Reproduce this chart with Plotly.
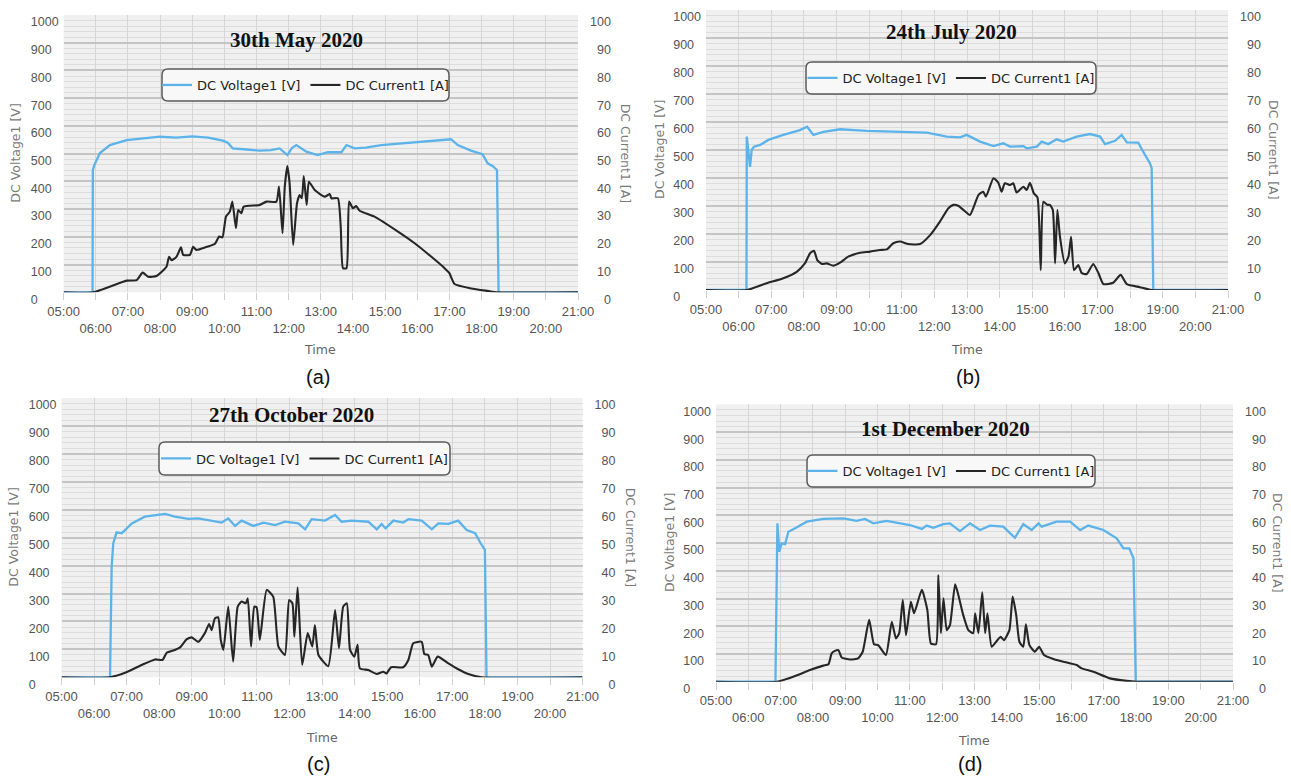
import plotly.graph_objects as go

W, H = 1291, 780

# ---------------- data ----------------
hour_ticks = list(range(5, 22))
hour_labels = ["05:00", "06:00", "07:00", "08:00", "09:00", "10:00", "11:00", "12:00", "13:00",
               "14:00", "15:00", "16:00", "17:00", "18:00", "19:00", "20:00", "21:00"]
volt_ticks = [0, 100, 200, 300, 400, 500, 600, 700, 800, 900, 1000]
amp_ticks = [0, 10, 20, 30, 40, 50, 60, 70, 80, 90, 100]
series_names = ["DC Voltage1 [V]", "DC Current1 [A]"]
panel_titles = ["30th May 2020", "24th July 2020", "27th October 2020", "1st December 2020"]
panel_tags = ["(a)", "(b)", "(c)", "(d)"]
left_axis_title = "DC Voltage1 [V]"
right_axis_title = "DC Current1 [A]"
x_axis_title = "Time"

# (a) 30th May 2020
may_v_t = [5.0, 5.9, 5.91, 5.96, 6.13, 6.44, 6.96, 7.5, 8.0, 8.5, 9.0, 9.5, 9.95, 10.1, 10.26, 10.7,
           11.1, 11.45, 11.72, 11.96, 12.1, 12.24, 12.4, 12.55, 12.9, 13.22, 13.64, 13.8, 14.05, 14.4,
           14.88, 15.4, 15.91, 16.5, 17.05, 17.26, 17.5, 17.67, 18.03, 18.19, 18.35, 18.48, 18.53, 21.0]
may_v = [0, 0, 441, 460, 502, 531, 549, 556, 561, 558, 562, 558, 547, 540, 519, 515,
         511, 513, 519, 495, 520, 531, 520, 507, 495, 505, 505, 531, 519, 522,
         531, 536, 543, 547, 552, 531, 520, 511, 498, 465, 455, 441, 0, 0]
may_i_t = [5.0, 5.92, 6.96, 7.27, 7.46, 7.63, 7.89, 8.2, 8.28, 8.36, 8.51, 8.65, 8.72, 8.93, 9.03,
           9.13, 9.45, 9.7, 9.84, 9.94, 10.05, 10.17, 10.25, 10.36, 10.43, 10.53, 10.6, 11.1, 11.31,
           11.62, 11.7, 11.81, 11.88, 11.96, 12.03, 12.14, 12.26, 12.34, 12.41, 12.47, 12.56, 12.63,
           12.81, 13.12, 13.28, 13.33, 13.53, 13.62, 13.69, 13.8, 13.88, 14.0, 14.1, 14.21, 14.67,
           15.4, 15.92, 16.44, 16.85, 17.0, 17.16, 17.68, 18.19, 18.5, 21.0]
may_i = [0, 0, 4.2, 4.4, 7.1, 5.6, 5.9, 9.2, 12.8, 11.6, 12.8, 16.2, 13.5, 13.5, 16.4,
         15.3, 16.4, 17.4, 20.1, 19.8, 27.3, 29.1, 32.7, 23.1, 29.7, 28.5, 30.9, 31.5, 32.7,
         32.7, 38.1, 21.3, 38.1, 45.5, 39.3, 17.1, 32.1, 35.1, 33.9, 41.9, 31.5, 39.9,
         36.9, 34.5, 35.4, 33.9, 33.9, 23.7, 8.7, 8.7, 32.7, 30.3, 31.1, 29.4, 27.3,
         21.9, 17.7, 12.8, 8.7, 6.9, 3.0, 1.4, 0.5, 0, 0]

# (b) 24th July 2020
jul_v_t = [5.0, 6.24, 6.25, 6.35, 6.4, 6.47, 6.66, 6.91, 7.37, 7.88, 8.1, 8.29, 8.6, 9.11, 9.93,
           10.95, 11.77, 12.38, 12.79, 12.99, 13.4, 13.81, 14.11, 14.32, 14.73, 14.83, 15.14, 15.29,
           15.49, 15.75, 15.95, 16.36, 16.77, 17.08, 17.23, 17.54, 17.74, 17.9, 18.25, 18.4, 18.61,
           18.66, 18.71, 21.0]
jul_v = [0, 0, 548, 440, 500, 512, 518, 536, 554, 571, 583, 554, 565, 574, 568,
         565, 562, 548, 545, 554, 530, 514, 524, 512, 514, 506, 512, 530,
         521, 538, 530, 548, 557, 548, 521, 533, 554, 527, 526, 494, 452,
         435, 0, 0]
jul_i_t = [5.0, 6.25, 6.86, 7.37, 7.78, 8.03, 8.19, 8.31, 8.41, 8.55, 8.7, 8.9, 9.11, 9.36, 9.72,
           10.03, 10.33, 10.54, 10.74, 10.95, 11.2, 11.56, 11.87, 12.17, 12.43, 12.58, 12.73, 12.89,
           13.09, 13.35, 13.5, 13.58, 13.81, 13.96, 14.06, 14.16, 14.32, 14.42, 14.52, 14.73, 14.83,
           14.93, 15.05, 15.16, 15.26, 15.34, 15.46, 15.54, 15.63, 15.7, 15.77, 15.85, 16.0, 16.11,
           16.19, 16.28, 16.41, 16.52, 16.67, 16.87, 17.03, 17.18, 17.48, 17.71, 17.9, 18.3, 18.66,
           21.0]
jul_i = [0, 0, 2.4, 4.2, 6.5, 9.5, 13.1, 14.0, 10.7, 9.3, 9.5, 8.7, 9.8, 11.9, 13.3,
         13.7, 14.3, 14.5, 16.7, 17.3, 16.4, 16.4, 19.6, 24.4, 29.2, 30.4, 30.1, 28.6,
         26.8, 33.9, 35.1, 33.3, 39.9, 38.3, 35.1, 38.1, 37.5, 38.1, 34.8, 36.9, 35.7,
         38.3, 34.5, 33.1, 7.1, 31.5, 30.4, 30.4, 28.6, 9.5, 28.6, 19.0, 9.5, 11.9,
         19.0, 7.1, 8.9, 6.0, 5.7, 9.3, 6.0, 2.1, 2.6, 5.4, 2.1, 1.0, 0,
         0]

# (c) 27th October 2020
oct_v_t = [5.0, 6.49, 6.54, 6.59, 6.69, 6.85, 6.95, 7.16, 7.56, 7.87, 8.18, 8.48, 8.89, 9.2, 9.61,
           9.92, 10.12, 10.33, 10.53, 10.89, 11.2, 11.56, 11.86, 12.27, 12.48, 12.68, 13.09, 13.4,
           13.6, 13.91, 14.42, 14.68, 14.83, 14.95, 15.19, 15.49, 15.65, 16.06, 16.37, 16.57, 16.88,
           17.18, 17.44, 17.7, 17.87, 18.0, 18.05, 21.0]
oct_v = [0, 0, 396, 480, 519, 516, 527, 551, 575, 579, 585, 575, 567, 569, 561,
         554, 569, 542, 561, 542, 554, 545, 557, 551, 530, 566, 561, 581,
         557, 561, 557, 530, 549, 533, 561, 554, 566, 561, 530, 551, 549,
         561, 527, 516, 480, 456, 0, 0]
oct_i_t = [5.0, 6.49, 6.95, 7.46, 7.87, 8.1, 8.23, 8.48, 8.64, 8.84, 9.0, 9.2, 9.41, 9.53, 9.61,
           9.71, 9.81, 9.89, 9.97, 10.12, 10.27, 10.41, 10.53, 10.66, 10.72, 10.82, 10.92, 10.99,
           11.09, 11.3, 11.5, 11.66, 11.86, 11.99, 12.09, 12.15, 12.25, 12.39, 12.56, 12.7, 12.78,
           12.89, 13.19, 13.4, 13.52, 13.65, 13.76, 13.86, 13.99, 14.09, 14.16, 14.42, 14.68, 14.88,
           14.98, 15.12, 15.49, 15.65, 15.8, 16.06, 16.14, 16.26, 16.37, 16.55, 16.88, 17.18, 17.49,
           17.9, 21.0]
oct_i = [0, 0, 1.6, 4.4, 6.4, 6.2, 8.8, 9.8, 10.7, 13.6, 14.3, 12.7, 16.0, 19.1, 16.9,
         21.1, 21.5, 13.4, 9.8, 25.3, 5.6, 25.3, 27.1, 26.5, 28.3, 11.0, 25.3, 25.1,
         13.4, 31.3, 28.9, 11.0, 8.0, 27.7, 26.5, 14.5, 32.2, 4.4, 15.8, 11.0, 18.7,
         8.0, 4.0, 24.1, 10.4, 25.3, 26.5, 9.8, 7.4, 11.6, 3.2, 2.6, 1.2, 2.0,
         1.4, 3.6, 3.6, 6.2, 12.2, 12.7, 8.3, 8.0, 3.8, 7.4, 5.0, 2.9, 1.2,
         0, 0]

# (d) 1st December 2020
dec_v_t = [5.0, 6.84, 6.9, 6.96, 7.03, 7.14, 7.24, 7.45, 7.81, 8.32, 8.94, 9.35, 9.61, 9.87, 10.28,
           10.7, 11.0, 11.37, 11.52, 11.73, 12.03, 12.24, 12.55, 12.86, 13.17, 13.48, 13.89, 14.05,
           14.25, 14.51, 14.77, 14.98, 15.08, 15.54, 15.96, 16.27, 16.52, 16.99, 17.4, 17.61, 17.79,
           17.92, 17.99, 21.0]
dec_v = [0, 0, 571, 469, 499, 496, 541, 553, 577, 587, 589, 580, 587, 571, 580,
         571, 565, 551, 563, 555, 568, 571, 543, 571, 547, 563, 559, 541,
         519, 568, 547, 571, 559, 577, 577, 547, 563, 547, 517, 481, 481,
         445, 0, 0]
dec_i_t = [5.0, 6.88, 7.39, 7.91, 8.32, 8.48, 8.58, 8.68, 8.79, 8.89, 9.15, 9.4, 9.54, 9.74, 9.89,
           10.02, 10.26, 10.44, 10.57, 10.67, 10.78, 10.88, 11.03, 11.13, 11.37, 11.54, 11.65, 11.81,
           11.88, 11.96, 12.04, 12.14, 12.24, 12.4, 12.5, 12.65, 12.81, 12.96, 13.02, 13.12, 13.24,
           13.33, 13.4, 13.53, 13.69, 13.81, 13.91, 14.08, 14.18, 14.29, 14.39, 14.51, 14.59, 14.7,
           14.87, 15.0, 15.15, 15.44, 15.75, 16.16, 16.32, 16.68, 17.19, 17.71, 18.02, 21.0]
dec_i = [0, 0, 1.8, 4.2, 5.8, 6.3, 10.2, 11.1, 11.4, 8.7, 8.0, 8.4, 10.8, 22.3, 13.5,
         13.2, 9.6, 21.6, 15.6, 17.5, 29.5, 16.8, 28.8, 24.7, 33.1, 25.9, 13.8, 13.5,
         38.5, 17.5, 30.1, 18.6, 20.4, 35.1, 31.3, 24.1, 18.6, 17.5, 24.7, 17.5, 32.2,
         17.5, 24.7, 12.6, 14.7, 16.2, 15.0, 18.6, 30.7, 24.1, 14.4, 12.6, 20.7, 13.2,
         10.8, 12.6, 9.6, 8.2, 7.2, 6.0, 4.8, 3.6, 1.2, 0.3, 0, 0]

panels_data = [
    (may_v_t, may_v, may_i_t, may_i),
    (jul_v_t, jul_v, jul_i_t, jul_i),
    (oct_v_t, oct_v, oct_i_t, oct_i),
    (dec_v_t, dec_v, dec_i_t, dec_i),
]

# ---------------- layout geometry (pixels) ----------------
geometry = [
    dict(plot=(63.6, 15, 578, 292.3), title=(296, 40), legend=(162, 69, 449, 101),
         ytl=16, ytr=625, time=(320, 350), tag=(318, 377)),
    dict(plot=(706, 10, 1228, 290), title=(951, 32), legend=(806, 62, 1096, 94),
         ytl=659, ytr=1274, time=(967, 349), tag=(968, 377)),
    dict(plot=(61.5, 398, 582.6, 677.3), title=(291, 415), legend=(159, 442, 450, 475),
         ytl=14, ytr=630, time=(322, 737), tag=(318, 764)),
    dict(plot=(716, 404.4, 1233, 681.7), title=(945, 429), legend=(807, 455, 1095, 487),
         ytl=669, ytr=1278, time=(974, 740), tag=(970, 764)),
]

VOLT_COLOR = "#5cb3ea"
CURR_COLOR = "#262626"
TICK_FONT = dict(family="Liberation Sans, Arial, sans-serif", size=12.5, color="#555555")
AXT_FONT = dict(family="DejaVu Sans, sans-serif", size=12.5, color="#7a7a7a")
FIG_SP = "\u2007"  # digit-wide space used to align tick labels as in the original


def fx(x):
    return x / W


def fy(y):
    return 1 - y / H


def rounded_box(x0, y0, x1, y1, r=6):
    rx, ry = r / W, r / H
    a0, a1, b0, b1 = fx(x0), fx(x1), fy(y1), fy(y0)
    return (f"M {a0 + rx},{b0} L {a1 - rx},{b0} Q {a1},{b0} {a1},{b0 + ry} "
            f"L {a1},{b1 - ry} Q {a1},{b1} {a1 - rx},{b1} L {a0 + rx},{b1} "
            f"Q {a0},{b1} {a0},{b1 - ry} L {a0},{b0 + ry} Q {a0},{b0} {a0 + rx},{b0} Z")


def note(text, x, y, font, angle=0):
    return dict(text=text, x=fx(x), y=fy(y), xref="paper", yref="paper", showarrow=False,
                xanchor="center", yanchor="middle", textangle=angle, font=font)


tick_text = [lab if i % 2 == 0 else "<br>" + lab for i, lab in enumerate(hour_labels)]
# left labels: left-aligned (pad right); right labels: right-aligned (pad left)
volt_text = [str(v) + FIG_SP * (4 - len(str(v))) for v in volt_ticks]
amp_text = [FIG_SP * (3 - len(str(a))) + str(a) for a in amp_ticks]

fig = go.Figure()
layout = dict(width=W, height=H, margin=dict(l=0, r=0, t=0, b=0, autoexpand=False),
              paper_bgcolor="white", plot_bgcolor="#f0f0f0",
              showlegend=True, annotations=[], shapes=[])

for k in range(4):
    vt, v, it, iv = panels_data[k]
    g = geometry[k]
    n = k + 1
    xref = "x" if n == 1 else f"x{n}"
    y1ref = "y" if n == 1 else f"y{2 * n - 1}"
    y2ref = f"y{2 * n}"
    xkey = "xaxis" if n == 1 else f"xaxis{n}"
    y1key = "yaxis" if n == 1 else f"yaxis{2 * n - 1}"
    y2key = f"yaxis{2 * n}"
    legkey = "legend" if n == 1 else f"legend{n}"

    fig.add_trace(go.Scatter(x=vt, y=v, mode="lines", name=series_names[0],
                             line=dict(color=VOLT_COLOR, width=2.3),
                             xaxis=xref, yaxis=y1ref, legend=legkey))
    fig.add_trace(go.Scatter(x=it, y=iv, mode="lines", name=series_names[1],
                             line=dict(color=CURR_COLOR, width=2.1, shape="spline", smoothing=0.5),
                             xaxis=xref, yaxis=y2ref, legend=legkey))

    px0, py0, px1, py1 = g["plot"]
    layout[xkey] = dict(domain=[fx(px0), fx(px1)], anchor=y1ref, range=[5, 21],
                        tickmode="array", tickvals=hour_ticks, ticktext=tick_text, tickangle=0,
                        showgrid=True, gridcolor="#d6d6d6", gridwidth=1,
                        ticks="outside", ticklen=7, tickcolor="#d0d0d0", automargin=False,
                        ticklabeloverflow="allow",
                        tickfont=dict(TICK_FONT, size=13), zeroline=False, showline=False)
    layout[y1key] = dict(domain=[fy(py1), fy(py0)], anchor=xref, range=[0, 1000],
                         tickmode="array", tickvals=volt_ticks, ticktext=volt_text,
                         showgrid=True, gridcolor="#c4c4c4", gridwidth=1.6,
                         minor=dict(tickmode="linear", tick0=0, dtick=20, showgrid=True,
                                    gridcolor="#dcdcdc", gridwidth=1),
                         ticks="", tickfont=TICK_FONT, ticklabelshift=7, ticklabelstandoff=4,
                         ticklabeloverflow="allow",
                         automargin=False, zeroline=False, showline=False)
    layout[y2key] = dict(overlaying=y1ref, anchor=xref, side="right", range=[0, 100],
                         tickmode="array", tickvals=amp_ticks, ticktext=amp_text,
                         showgrid=False, ticks="", tickfont=TICK_FONT,
                         ticklabelshift=7, ticklabelstandoff=11, automargin=False,
                         ticklabeloverflow="allow", zeroline=False, showline=False)

    lx0, ly0, lx1, ly1 = g["legend"]
    layout[legkey] = dict(x=fx((lx0 + lx1) / 2), y=fy((ly0 + ly1) / 2), xanchor="center",
                          yanchor="middle", orientation="h", bgcolor="rgba(0,0,0,0)",
                          borderwidth=0, itemwidth=30,
                          font=dict(family="DejaVu Sans, sans-serif", size=13, color="#222222"))
    layout["shapes"].append(dict(type="path", path=rounded_box(lx0, ly0, lx1, ly1), xref="paper",
                                 yref="paper", line=dict(color="#5a5a5a", width=1.5),
                                 fillcolor="#f8f8f8", layer="above"))

    ymid = (py0 + py1) / 2
    tx, ty = g["title"]
    layout["annotations"] += [
        note(f"<b>{panel_titles[k]}</b>", tx, ty,
             dict(family="Liberation Serif, Times New Roman, serif", size=21, color="#111111")),
        note(left_axis_title, g["ytl"], ymid, AXT_FONT, -90),
        note(right_axis_title, g["ytr"], ymid, AXT_FONT, 90),
        note(x_axis_title, g["time"][0], g["time"][1], dict(AXT_FONT, color="#666666")),
        note(panel_tags[k], g["tag"][0], g["tag"][1],
             dict(family="Liberation Sans, Arial, sans-serif", size=20, color="#111111")),
    ]

fig.update_layout(**layout)
fig.write_html("out.html", config={"displayModeBar": False},
               post_script="document.body.style.margin='0px';")
